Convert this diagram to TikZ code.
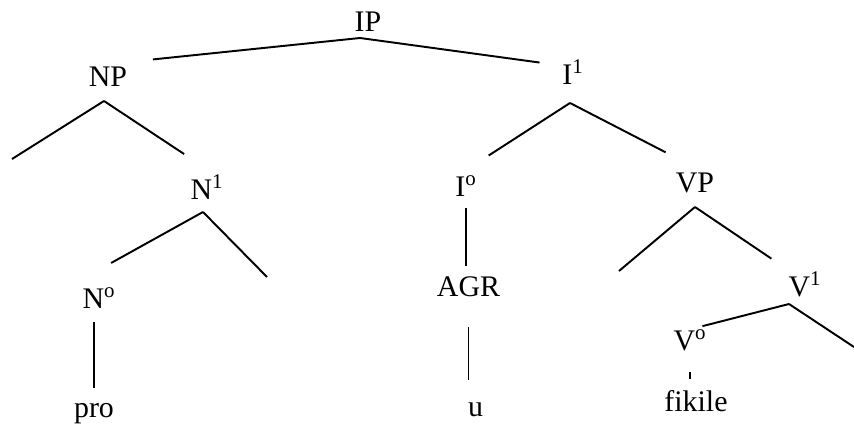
\documentclass[tikz,border=0pt]{standalone}
\usepackage{fontspec}
\setmainfont{Liberation Serif}
\usetikzlibrary{calc}
\tikzset{cat/.style={anchor=base,inner sep=0.1cm,font=\fontsize{17}{20}\selectfont}}

\begin{document}
\begin{tikzpicture}[line width=1.1pt]
    \useasboundingbox (0,0) rectangle (17.08,8.54);
    % categories
    \node[cat] (ip) at (7.36,7.90) {IP};
    \node[cat] (np) at (2.16,6.80) {NP};
    \node[cat] (ibar) at (11.46,6.84) {I\textsuperscript{1}};
    \node[cat] (nbar) at (4.14,4.54) {N\textsuperscript{1}};
    \node[cat] (izero) at (9.32,4.60) {I\textsuperscript{o}};
    \node[cat] (vp) at (13.90,4.68) {VP};
    \node[cat] (nzero) at (1.98,2.36) {N\textsuperscript{o}};
    \node[cat] (agr) at (9.37,2.60) {AGR};
    \node[cat] (vbar) at (16.10,2.60) {V\textsuperscript{1}};
    \node[cat] (vzero) at (13.80,1.52) {V\textsuperscript{o}};
    \node[cat] (fikile) at (13.92,0.30) {fikile};
    \node[cat] (pro) at (1.88,0.20) {pro};
    \node[cat] (u) at (9.51,0.22) {u};
    % branching points and empty leaves
    \coordinate (ipb) at (7.20,7.78);
    \coordinate (npb) at (2.08,6.52);
    \coordinate (ibarb) at (11.40,6.48);
    \coordinate (nbarb) at (4.06,4.30);
    \coordinate (vpb) at (13.90,4.40);
    \coordinate (vbarb) at (15.78,2.46);
    \coordinate (npl) at (0.24,5.36);
    \coordinate (nbarr) at (5.34,3.00);
    \coordinate (vpl) at (12.38,3.12);
    \coordinate (vbarr) at (17.08,1.60);
    % branches
    \foreach \a/\b/\s in {ipb/np.north east/0.4, ipb/ibar.155/0.34, npb/npl/0,
        npb/nbar.north/0.55, ibarb/izero.north/0.54, ibarb/vp.north/0.66,
        nbarb/nzero.north west/0.79, nbarb/nbarr/0, vpb/vpl/0,
        vpb/vbar.north west/0.27, vbarb/vbarr/0}
      \draw[shorten >=\s cm] (\a) -- (\b);
    \draw (vbarb) -- ($(vzero.north east)+(-0.2,-0.04)$);
    % unary branches
    \draw[shorten <=0.1cm,shorten >=0.1cm] (izero.south) -- (izero.south |- agr.north);
    \draw[shorten <=0.48cm,shorten >=0.32cm] (agr.south) -- (agr.south |- u.north);
    \draw[shorten <=0.14cm,shorten >=0.18cm] (pro.north |- nzero.south) -- (pro.north);
    \draw[shorten <=0.3cm,shorten >=0.11cm] (vzero.south) -- (vzero.south |- fikile.north);
\end{tikzpicture}
\end{document}
